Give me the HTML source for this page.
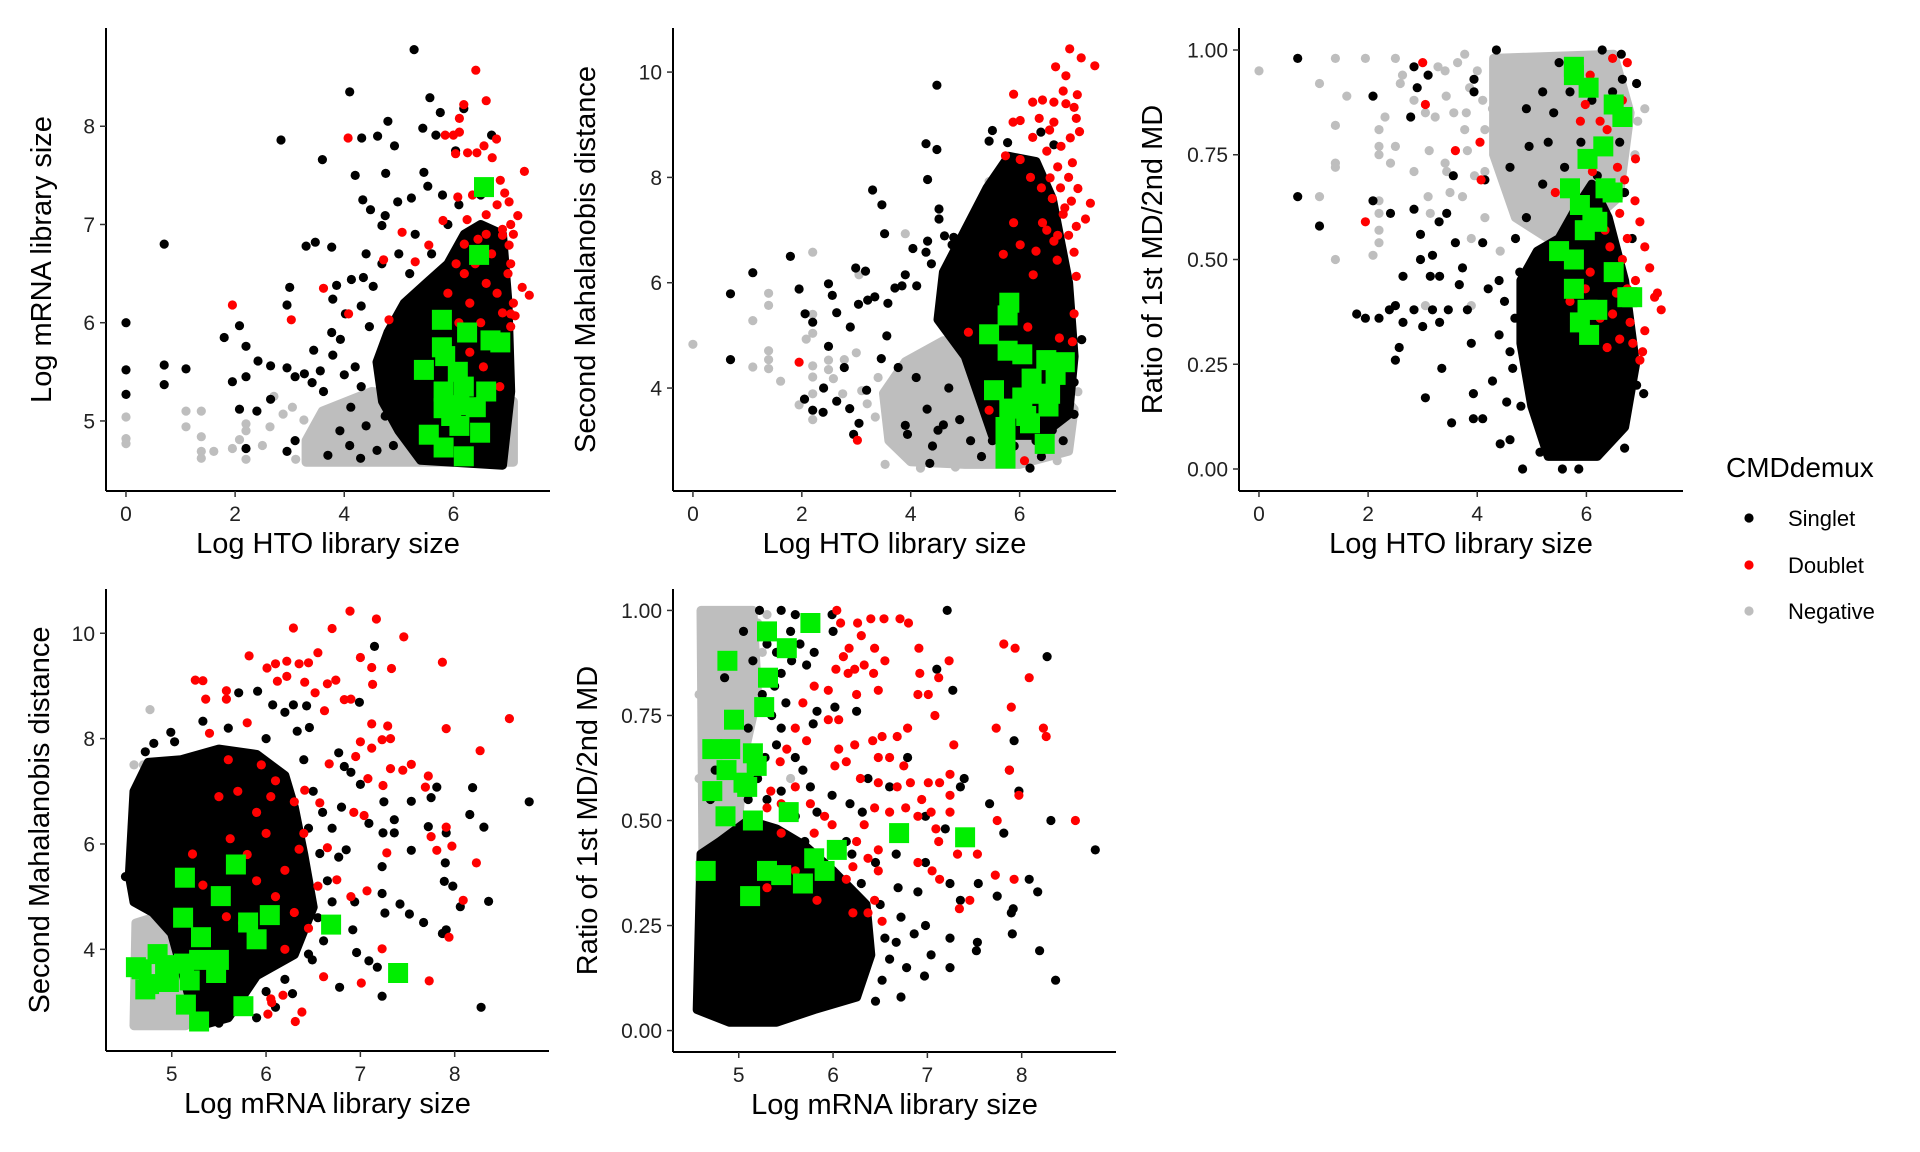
<!DOCTYPE html>
<html><head><meta charset="utf-8"><title>CMDdemux diagnostic scatter plots</title>
<style>
html,body{margin:0;padding:0;background:#fff;}
svg{display:block;font-family:"Liberation Sans",Arial,sans-serif;}
</style></head>
<body>
<svg id="fig" width="1920" height="1152" viewBox="0 0 1920 1152" xmlns="http://www.w3.org/2000/svg">
<rect width="1920" height="1152" fill="#fff"/>
<g id="plots"></g>
<g>
 <text x="1726" y="477" font-size="28">CMDdemux</text>
 <g><circle cx="1749" cy="518" r="4.6" fill="#000"/><text x="1788" y="526" font-size="22">Singlet</text></g>
 <g><circle cx="1749" cy="565" r="4.6" fill="#f00"/><text x="1788" y="573" font-size="22">Doublet</text></g>
 <g><circle cx="1749" cy="611" r="4.6" fill="#bebebe"/><text x="1788" y="619" font-size="22">Negative</text></g>
</g>
</svg>
<script>
// ---------- tick arrays ----------
var htoTicks=[0,2,4,6];
var mrnaPanel1Ticks=[5,6,7,8];
var md2Ticks=[4,6,8,10];
var ratioTicks=[0,0.25,0.5,0.75,1.0];
var ratioTickLabels=["0.00","0.25","0.50","0.75","1.00"];
var mrnaTicks=[5,6,7,8];

// ---------- Panel 1: Log HTO vs Log mRNA ----------
var p1NegativeCore=[[3.3,4.58],[7.1,4.58],[7.1,5.2],[5.5,5.25],[4.5,5.3],[3.6,5.1],[3.3,4.8]];
var p1SingletCore=[[5.0,4.9],[5.4,4.6],[6.9,4.55],[7.05,5.3],[7.0,6.2],[6.9,6.9],[6.5,7.0],[6.2,6.9],[5.9,6.6],[5.5,6.4],[5.1,6.2],[4.8,5.9],[4.6,5.6],[4.7,5.2]];
var p1Negative=[[0,5.04],[0,4.82],[0,4.77],[1.1,5.1],[1.1,4.94],[1.38,5.1],[1.38,4.84],[1.38,4.69],[1.38,4.62],[1.61,4.69],[1.95,4.72],[2.08,4.81],[2.2,4.97],[2.2,4.9],[2.2,4.61],[2.5,4.75],[2.64,4.94],[2.71,5.25],[2.88,5.07],[3.05,5.14],[3.26,5.01],[3.41,4.78],[3.11,4.61]];
var p1Singlet=[[0,6.0],[0,5.52],[0,5.27],[0.7,6.8],[0.7,5.57],[0.7,5.37],[1.1,5.53],[1.8,5.85],[1.95,5.4],[2.08,5.97],[2.2,5.76],[2.2,5.45],[2.08,5.12],[2.4,5.1],[2.2,4.72],[2.84,7.86],[3,6.36],[2.95,6.18],[3.3,6.78],[3.47,6.82],[3.6,7.66],[3.77,6.77],[3.79,6.24],[3.86,6.38],[4.1,8.35],[4.32,7.88],[4.61,7.9],[4.8,8.05],[4.92,7.8],[4.2,7.5],[4.76,7.52],[5.28,8.78],[5.57,8.29],[5.76,8.14],[5.44,7.98],[5.68,7.91],[6.19,8.18],[6.04,7.75],[6.7,7.91],[5.46,7.53],[5.53,7.39],[4.98,7.23],[4.34,7.25],[4.48,7.15],[5.23,7.27],[4.75,7.09],[4.69,6.99],[4.4,6.7],[4.69,6.6],[4.13,6.44],[4.35,6.46],[4.53,6.37],[4.31,6.17],[4.02,6.09],[4.46,5.96],[3.77,5.9],[3.93,5.83],[3.44,5.72],[3.79,5.67],[3.56,5.51],[3.27,5.48],[2.95,5.54],[2.65,5.56],[2.42,5.61],[3.1,5.45],[3.41,5.39],[3.62,5.3],[2.65,5.22],[4.0,5.47],[4.2,5.55],[4.31,5.35],[4.12,5.14],[3.92,4.9],[2.95,4.69],[3.1,4.8],[4.4,4.95],[4.6,4.7],[4.9,4.75],[4.3,4.62],[4.75,5.05],[3.7,4.65],[4.1,4.75],[5.2,6.5],[5.0,6.7],[5.3,6.9],[5.6,6.7],[5.9,7.0],[6.1,7.2],[5.8,7.3],[6.5,7.3]];
var p1Doublet=[[6.41,8.57],[6.6,8.26],[6.19,8.22],[6.11,8.08],[5.85,7.91],[6.0,7.91],[6.11,7.94],[6.79,7.87],[6.04,7.72],[6.26,7.73],[6.43,7.73],[6.56,7.8],[6.71,7.68],[7.3,7.54],[6.86,7.45],[6.94,7.32],[7.02,7.23],[7.18,7.09],[7.05,7.0],[6.9,6.89],[7.02,6.79],[7.26,6.36],[7.39,6.28],[7.05,6.09],[7.13,6.07],[7.05,5.96],[5.55,6.79],[5.06,6.92],[5.81,7.04],[6.08,7.28],[5.3,6.62],[4.82,6.03],[4.08,6.09],[4.07,7.88],[3.62,6.35],[4.72,6.64],[1.95,6.18],[3.03,6.03],[6.2,6.5],[6.4,6.6],[6.6,6.4],[6.8,6.3],[7.0,6.5],[6.3,6.2],[6.5,6.0],[6.9,6.1],[6.1,6.0],[6.7,6.7],[6.45,6.85],[6.9,6.95],[7.05,6.6],[6.2,6.8],[6.6,7.1],[6.8,7.2],[6.35,7.3],[6.7,5.8],[6.95,5.75],[6.3,5.7],[6.55,5.55],[6.15,5.4],[6.45,5.2],[6.85,5.35],[7.1,6.2],[5.9,6.3],[6.05,6.6],[6.6,6.9],[6.25,7.05],[7.1,6.9]];
var p1Green=[[6.56,7.38],[6.47,6.69],[5.79,6.03],[6.25,5.9],[6.68,5.82],[6.86,5.8],[5.79,5.75],[5.46,5.52],[5.85,5.66],[6.08,5.5],[5.82,5.3],[6.19,5.35],[6.6,5.3],[5.82,5.13],[6.11,5.16],[6.41,5.14],[6.11,4.95],[6.49,4.88],[5.55,4.86],[5.82,4.73],[6.19,4.64],[5.96,5.05]];

// ---------- Panel 2: Log HTO vs Second MD ----------
var p2NegativeCore=[[3.6,3.0],[4.0,2.6],[5.0,2.55],[6.0,2.55],[6.9,2.8],[7.0,3.6],[6.4,4.3],[5.5,4.7],[4.6,4.9],[3.9,4.5],[3.5,3.9]];
var p2SingletCore=[[5.0,4.6],[5.3,3.7],[5.5,3.1],[6.4,3.1],[6.9,3.5],[7.0,4.6],[6.9,6.0],[6.6,7.6],[6.3,8.3],[5.8,8.4],[5.4,7.8],[5.0,7.0],[4.6,6.2],[4.5,5.3]];
var p2Negative=[[0,4.83],[1.1,5.28],[1.1,4.4],[1.39,5.8],[1.39,5.57],[1.39,4.71],[1.39,4.54],[1.39,4.37],[1.61,4.13],[1.95,3.68],[2.2,6.58],[2.2,5.4],[2.2,5.04],[2.08,4.93],[2.2,4.42],[2.2,4.21],[2.2,3.89],[2.2,3.4],[2.49,4.53],[2.49,4.35],[2.78,4.54],[2.58,4.18],[2.75,3.89],[3.05,6.15],[3.0,4.67],[3.9,6.93],[3.53,2.55],[4.18,2.48],[4.82,2.5],[5.44,7.92],[6.69,2.62],[7.07,3.93],[3.2,3.7],[3.35,3.45],[3.1,3.95],[3.4,4.2]];
var p2Singlet=[[0.69,4.54],[0.69,5.79],[1.1,6.19],[1.79,6.5],[1.95,5.88],[2.06,5.41],[2.2,5.25],[2.49,5.98],[2.56,5.76],[2.49,4.79],[2.64,5.43],[2.89,5.16],[2.99,6.28],[3.17,6.22],[3.04,5.59],[3.21,5.67],[3.34,5.73],[3.3,7.76],[3.47,7.48],[3.52,6.93],[3.58,5.61],[3.71,5.9],[3.84,5.94],[3.9,6.15],[4.04,6.65],[4.11,5.94],[4.28,8.64],[4.48,8.53],[4.31,7.96],[4.48,9.75],[4.52,7.4],[4.52,7.21],[4.31,6.79],[4.28,6.58],[4.38,6.36],[4.62,6.89],[4.76,6.72],[4.79,6.86],[5.5,8.89],[5.44,8.69],[6.39,8.86],[6.63,8.62],[5.78,8.66],[2.05,3.79],[2.2,3.58],[2.39,3.54],[2.4,4.0],[2.64,3.75],[2.78,4.39],[2.88,3.61],[2.95,3.12],[3.05,3.33],[3.19,3.96],[3.46,4.56],[3.56,4.99],[3.77,4.39],[3.9,3.29],[3.94,3.12],[4.35,2.57],[6.19,2.48],[7.0,3.5],[7.14,4.92],[7.0,4.11],[4.3,3.6],[4.5,3.2],[4.7,4.0],[4.1,4.2],[4.9,3.4],[5.1,3.0],[4.4,2.9],[5.2,4.3],[4.6,3.3],[5.5,3.0],[5.9,2.9],[6.3,3.0],[6.6,3.2],[6.8,3.0],[5.3,2.7],[6.4,2.7]];
var p2Doublet=[[6.92,10.44],[7.13,10.27],[7.38,10.12],[6.66,10.1],[6.85,9.93],[5.89,9.58],[6.8,9.64],[7.06,9.57],[6.24,9.43],[6.42,9.47],[6.63,9.43],[7.0,9.33],[7.04,9.12],[5.88,9.05],[6.01,9.08],[6.36,9.12],[6.63,9.05],[7.1,8.87],[6.24,8.76],[6.93,8.75],[6.76,8.59],[6.97,8.28],[5.74,8.41],[6.01,8.34],[6.56,7.99],[7.07,7.79],[7.3,7.51],[7.21,7.21],[6.83,7.42],[7.04,7.07],[6.42,7.14],[6.63,6.79],[7.0,6.58],[7.04,6.12],[5.89,7.14],[5.7,6.54],[6.01,6.72],[6.25,6.15],[6.69,6.43],[6.15,5.16],[5.06,5.06],[7.0,5.41],[6.73,4.95],[6.97,4.88],[1.95,4.49],[3.02,3.01],[5.44,3.58],[6.09,2.62],[6.5,8.5],[6.7,8.2],[6.9,8.0],[6.4,7.8],[6.6,7.6],[6.8,7.3],[6.5,7.0],[6.9,6.9],[6.3,6.6],[6.7,6.9],[6.55,8.9],[6.85,9.4],[6.2,8.0],[6.75,7.8],[6.95,7.55]];
var p2Green=[[5.81,5.62],[5.78,5.38],[5.44,5.02],[5.78,4.71],[6.05,4.64],[6.49,4.53],[6.83,4.49],[6.22,4.18],[6.66,4.25],[5.53,3.96],[6.05,3.82],[6.39,3.89],[6.53,3.65],[5.81,3.61],[6.12,3.47],[5.74,3.26],[6.19,3.33],[5.74,3.01],[6.46,2.94],[5.74,2.66],[6.56,3.89]];

// ---------- Panel 3: Log HTO vs ratio ----------
var p3NegativeCore=[[4.3,0.98],[6.5,0.99],[6.8,0.85],[6.6,0.65],[6.0,0.58],[5.3,0.55],[4.7,0.6],[4.3,0.75]];
var p3SingletCore=[[5.3,0.03],[6.2,0.03],[6.7,0.1],[6.9,0.25],[6.7,0.45],[6.4,0.6],[6.1,0.68],[5.8,0.62],[5.5,0.55],[5.1,0.52],[4.8,0.45],[4.8,0.3],[5.0,0.15]];
var p3Negative=[[0,0.95],[1.4,0.98],[1.95,0.98],[2.5,0.98],[1.11,0.92],[1.61,0.89],[1.4,0.82],[1.4,0.73],[1.4,0.72],[1.11,0.65],[1.4,0.5],[2.09,0.51],[2.2,0.54],[2.2,0.57],[2.2,0.61],[2.2,0.64],[2.2,0.77],[2.2,0.75],[2.31,0.84],[2.5,0.77],[2.41,0.73],[2.2,0.81],[2.63,0.94],[2.59,0.92],[2.84,0.71],[3.14,0.61],[3.1,0.65],[3.12,0.76],[3.05,0.39],[2.84,0.88],[3.05,0.85],[3.23,0.84],[3.28,0.96],[3.41,0.95],[3.43,0.89],[3.44,0.71],[3.41,0.73],[3.5,0.66],[3.57,0.85],[3.64,0.97],[3.77,0.99],[3.77,0.81],[3.8,0.85],[3.82,0.76],[3.86,0.91],[3.89,0.55],[3.89,0.39],[3.73,0.65],[4.14,0.81],[4.14,0.71],[4.14,0.6],[4.28,0.86],[4.42,0.52],[7.07,0.86],[6.94,0.83],[6.89,0.75],[4.0,0.95],[4.1,0.88],[3.95,0.7]];
var p3Singlet=[[0.71,0.98],[0.71,0.65],[1.11,0.58],[2.09,0.89],[2.09,0.64],[2.41,0.61],[1.79,0.37],[1.95,0.36],[2.2,0.36],[2.39,0.38],[2.5,0.39],[2.5,0.26],[2.57,0.29],[2.64,0.46],[2.64,0.35],[2.84,0.38],[2.84,0.62],[2.78,0.84],[2.84,0.96],[2.9,0.91],[3.1,0.94],[2.96,0.56],[2.96,0.5],[3.0,0.34],[3.05,0.17],[3.18,0.51],[3.18,0.38],[3.14,0.46],[3.31,0.46],[3.31,0.35],[3.3,0.59],[3.35,0.24],[3.44,0.61],[3.53,0.11],[3.47,0.38],[3.56,0.7],[3.6,0.54],[3.67,0.44],[3.73,0.48],[3.82,0.38],[3.89,0.3],[3.93,0.18],[3.93,0.12],[4.1,0.12],[4.1,0.54],[4.2,0.43],[4.28,0.21],[4.42,0.06],[4.6,0.07],[4.83,0.0],[4.14,0.69],[3.94,0.93],[3.94,0.9],[4.35,1.0],[4.4,0.32],[4.65,0.24],[4.54,0.16],[4.69,0.36],[4.78,0.47],[4.95,0.77],[5.2,0.9],[6.29,1.0],[6.64,0.99],[6.92,0.92],[6.48,0.9],[6.66,0.93],[6.61,0.78],[6.7,0.66],[6.84,0.55],[7.05,0.18],[6.92,0.2],[6.7,0.05],[5.56,0.0],[5.86,0.0],[5.15,0.04],[5.4,0.85],[5.7,0.9],[5.9,0.78],[5.6,0.72],[5.2,0.68],[5.8,0.95],[6.1,0.88],[5.3,0.78],[4.6,0.72],[4.9,0.86],[5.5,0.97],[6.2,0.7],[4.5,0.4],[4.6,0.28],[4.8,0.15],[4.7,0.55],[4.4,0.45],[4.9,0.6]];
var p3Doublet=[[3.0,0.97],[3.05,0.87],[3.6,0.76],[4.05,0.78],[4.07,0.69],[1.95,0.59],[7.37,0.38],[7.3,0.42],[7.16,0.48],[7.07,0.53],[6.98,0.59],[6.89,0.64],[6.9,0.74],[7.03,0.28],[6.98,0.26],[7.07,0.33],[6.8,0.35],[6.61,0.31],[6.48,0.37],[6.75,0.43],[6.66,0.5],[6.43,0.53],[6.34,0.57],[6.61,0.61],[6.7,0.69],[6.57,0.72],[6.38,0.81],[6.25,0.83],[6.66,0.88],[6.75,0.97],[6.48,0.98],[6.07,0.94],[5.98,0.87],[5.89,0.83],[6.11,0.71],[6.07,0.47],[5.98,0.43],[5.7,0.4],[5.79,0.5],[5.43,0.66],[6.25,0.36],[6.38,0.29],[6.75,0.55],[7.25,0.41],[6.9,0.45],[6.55,0.42],[6.85,0.3]];
var p3Green=[[5.77,0.96],[5.77,0.94],[6.04,0.91],[6.5,0.87],[6.66,0.84],[6.31,0.77],[6.02,0.74],[5.7,0.67],[6.35,0.67],[6.48,0.66],[5.88,0.63],[6.11,0.6],[6.2,0.59],[5.97,0.57],[5.5,0.52],[5.77,0.5],[6.5,0.47],[5.77,0.43],[6.75,0.41],[6.02,0.38],[6.2,0.38],[5.88,0.35],[6.05,0.32],[6.84,0.41]];

// ---------- Panel 4: Log mRNA vs Second MD ----------
var p4NegativeCore=[[4.6,2.55],[5.15,2.55],[5.2,3.0],[5.0,4.3],[4.8,4.6],[4.62,4.5]];
var p4SingletCore=[[4.55,5.4],[4.6,7.0],[4.75,7.55],[5.1,7.6],[5.5,7.8],[5.9,7.7],[6.2,7.3],[6.3,6.7],[6.4,5.8],[6.5,4.8],[6.3,3.9],[5.9,3.5],[5.6,2.7],[5.3,2.55],[5.2,3.0],[5.0,4.3],[4.8,4.7],[4.6,4.9]];
var p4Negative=[[4.77,8.55],[4.6,7.5],[4.7,7.5],[4.62,6.2],[4.62,6.0],[4.75,5.5],[4.6,5.2],[4.65,4.9],[5.2,2.6],[5.25,2.75]];
var p4Singlet=[[8.79,6.8],[8.16,6.56],[8.31,6.32],[8.19,7.07],[7.81,7.08],[7.75,6.88],[7.54,6.81],[7.36,6.46],[7.72,6.33],[7.91,6.21],[7.54,5.88],[7.9,5.64],[7.89,5.29],[7.98,5.2],[8.06,4.81],[8.36,4.91],[7.42,4.86],[7.52,4.67],[7.67,4.51],[7.87,4.3],[7.91,4.37],[7.26,4.69],[7.23,5.06],[7.23,5.57],[7.24,6.21],[7.25,6.8],[7.36,6.21],[7.09,6.39],[7.0,7.13],[6.9,7.36],[6.83,7.47],[6.96,3.94],[7.09,3.78],[7.18,3.66],[7.23,3.11],[8.28,2.9],[7.15,9.75],[6.99,8.69],[6.77,7.73],[6.78,3.28],[6.92,4.37],[6.94,4.9],[6.85,5.89],[6.77,5.75],[6.57,5.82],[6.61,4.16],[6.45,3.91],[6.49,3.8],[6.28,3.16],[6.2,3.43],[5.91,8.9],[5.71,8.87],[6.07,8.64],[6.29,8.64],[6.43,8.62],[6.46,8.21],[6.2,8.5],[6.33,8.14],[4.99,8.12],[5.03,7.94],[4.81,7.91],[4.72,7.75],[5.33,8.33],[4.61,5.4],[4.51,5.38],[6.6,6.6],[6.7,6.3],[6.5,7.0],[6.65,5.3],[6.45,6.3],[6.4,7.6],[6.0,8.0],[5.6,8.2],[6.8,6.7],[6.55,4.6],[6.7,4.9],[6.0,3.2],[5.8,3.0],[5.5,2.6],[6.1,2.9],[5.9,2.7]];
var p4Doublet=[[6.89,10.42],[7.17,10.27],[6.29,10.1],[6.7,10.09],[7.46,9.93],[5.82,9.57],[7.0,9.54],[7.87,9.45],[7.12,9.35],[7.33,9.33],[6.1,9.42],[6.22,9.47],[6.35,9.42],[6.45,9.44],[6.55,9.63],[6.01,9.34],[5.25,9.11],[5.33,9.1],[6.12,9.09],[6.22,9.18],[6.74,9.11],[6.65,9.04],[7.13,9.03],[6.41,9.07],[6.52,8.87],[5.58,8.91],[5.36,8.75],[5.58,8.75],[6.83,8.74],[6.9,8.75],[6.62,8.53],[8.58,8.38],[7.91,8.19],[7.12,8.28],[7.29,8.24],[8.27,7.77],[7.23,7.98],[7.32,8.0],[7.0,7.94],[6.95,7.66],[7.12,7.82],[7.54,7.51],[7.45,7.4],[7.32,7.43],[7.72,7.29],[7.69,7.08],[7.24,7.11],[7.08,7.24],[7.91,6.32],[7.75,6.14],[7.81,5.88],[7.97,5.96],[8.23,5.64],[8.09,4.93],[7.94,4.23],[7.23,4.01],[7.73,3.4],[7.01,3.36],[6.93,6.6],[7.04,6.54],[7.28,5.83],[7.07,5.11],[6.9,5.0],[6.65,5.93],[6.75,5.32],[6.57,6.78],[6.41,7.02],[6.67,7.52],[6.61,3.48],[6.38,2.81],[6.31,2.63],[6.18,3.13],[6.06,2.99],[6.02,2.77],[6.05,3.06],[5.62,6.1],[5.33,5.22],[5.58,4.62],[5.22,5.81],[5.7,7.0],[5.9,6.6],[6.1,7.2],[5.5,6.9],[6.0,6.2],[6.2,5.5],[5.8,5.8],[6.1,5.0],[6.3,4.7],[5.6,7.6],[6.3,6.8],[5.95,7.5],[6.4,6.2],[6.45,4.4],[6.2,4.0],[5.75,4.5],[6.55,5.2],[5.4,8.1],[5.8,8.3],[6.05,6.9],[5.9,5.3],[6.35,5.9]];
var p4Green=[[5.14,5.36],[5.68,5.61],[5.52,5.01],[5.12,4.6],[5.81,4.51],[6.04,4.65],[6.69,4.47],[5.31,4.23],[5.9,4.19],[4.85,3.91],[4.68,3.62],[4.93,3.7],[5.13,3.73],[5.29,3.8],[5.5,3.8],[7.4,3.55],[4.76,3.34],[4.97,3.38],[5.19,3.41],[5.47,3.55],[4.72,3.24],[5.15,2.95],[5.76,2.92],[5.29,2.63],[4.62,3.66]];

// ---------- Panel 5: Log mRNA vs ratio ----------
var p5NegativeCore=[[4.6,1.0],[5.15,1.0],[5.2,0.8],[5.05,0.65],[5.0,0.5],[4.8,0.42],[4.62,0.42]];
var p5SingletCore=[[4.56,0.05],[4.6,0.42],[4.8,0.45],[5.1,0.5],[5.4,0.48],[5.7,0.44],[6.0,0.38],[6.35,0.3],[6.4,0.18],[6.25,0.08],[5.8,0.05],[5.4,0.02],[4.9,0.02]];
var p5Negative=[[5.3,0.99],[5.2,0.97],[5.25,0.9],[5.22,0.83],[4.58,0.6],[4.58,0.8],[5.1,0.45],[5.55,0.6]];
var p5Singlet=[[7.21,1.0],[8.27,0.89],[7.1,0.86],[7.27,0.81],[7.92,0.69],[6.79,0.65],[7.39,0.6],[7.35,0.58],[7.87,0.62],[7.97,0.57],[7.66,0.54],[8.31,0.5],[8.78,0.43],[7.81,0.47],[7.19,0.48],[6.98,0.51],[8.08,0.36],[8.17,0.33],[7.74,0.32],[7.54,0.35],[7.35,0.31],[7.91,0.29],[7.89,0.28],[7.24,0.22],[7.53,0.21],[7.52,0.19],[7.9,0.23],[8.19,0.19],[8.36,0.12],[7.24,0.15],[7.04,0.18],[6.97,0.13],[6.72,0.08],[6.78,0.15],[6.67,0.21],[6.52,0.12],[6.45,0.07],[6.6,0.17],[6.86,0.23],[6.98,0.25],[6.72,0.27],[6.69,0.34],[6.9,0.33],[7.24,0.35],[6.98,0.4],[6.67,0.42],[6.6,0.58],[6.37,0.6],[6.31,0.52],[6.14,0.45],[6.18,0.54],[5.99,0.56],[6.02,0.77],[6.25,0.76],[5.83,0.76],[5.79,0.73],[5.99,0.99],[6.0,0.95],[5.6,0.99],[5.45,1.0],[5.22,1.0],[5.8,0.9],[5.72,0.87],[5.56,0.88],[5.38,0.82],[5.45,0.72],[5.28,0.65],[5.6,0.65],[5.68,0.62],[5.76,0.58],[5.6,0.51],[5.45,0.57],[5.83,0.52],[5.99,0.38],[4.92,0.33],[5.05,0.95],[5.15,0.88],[5.25,0.8],[5.1,0.72],[5.3,0.92],[5.4,0.9],[5.35,0.75],[5.2,0.6],[5.45,0.85],[5.5,0.78],[5.1,0.55],[5.3,0.55],[4.85,0.84],[4.75,0.62],[4.7,0.55],[5.4,0.68],[5.55,0.95],[5.65,0.92],[5.5,0.52],[5.7,0.45],[6.5,0.3],[6.55,0.22],[6.3,0.35],[6.2,0.42],[6.45,0.4]];
var p5Doublet=[[6.04,1.0],[6.08,0.97],[6.26,0.97],[6.4,0.98],[6.54,0.98],[6.71,0.98],[6.8,0.97],[6.3,0.94],[6.91,0.91],[6.44,0.91],[6.55,0.88],[6.11,0.89],[6.17,0.91],[7.23,0.88],[7.81,0.92],[7.93,0.91],[8.08,0.84],[6.33,0.87],[6.23,0.86],[6.16,0.85],[6.43,0.85],[6.03,0.86],[5.95,0.81],[6.25,0.8],[6.48,0.81],[6.92,0.85],[7.12,0.84],[6.9,0.8],[7.01,0.8],[7.08,0.75],[7.89,0.77],[7.73,0.72],[8.23,0.72],[8.26,0.7],[7.28,0.68],[7.87,0.62],[7.97,0.56],[8.57,0.5],[7.74,0.5],[7.53,0.42],[7.72,0.37],[7.92,0.36],[7.45,0.31],[7.34,0.29],[6.79,0.72],[6.68,0.7],[6.52,0.7],[6.42,0.69],[6.6,0.65],[6.48,0.65],[6.75,0.63],[6.23,0.68],[6.06,0.67],[6.14,0.64],[6.02,0.63],[6.29,0.6],[6.48,0.59],[6.68,0.58],[6.82,0.59],[7.01,0.59],[7.13,0.59],[7.24,0.61],[6.94,0.55],[7.24,0.56],[7.24,0.52],[7.04,0.52],[6.9,0.51],[6.6,0.52],[6.77,0.53],[6.44,0.53],[6.33,0.49],[6.25,0.45],[6.48,0.43],[7.09,0.48],[7.12,0.45],[7.32,0.42],[7.05,0.38],[7.13,0.36],[6.9,0.4],[6.48,0.38],[6.37,0.41],[6.21,0.39],[6.14,0.36],[6.44,0.31],[6.52,0.26],[6.37,0.28],[6.21,0.28],[5.83,0.31],[5.6,0.38],[5.3,0.34],[5.45,0.47],[5.34,0.57],[5.45,0.54],[5.6,0.58],[5.76,0.54],[5.91,0.51],[5.8,0.47],[5.99,0.49],[5.6,0.72],[5.72,0.69],[5.68,0.78],[5.8,0.82],[5.95,0.74],[6.06,0.74],[5.51,0.67],[5.44,0.64],[5.3,0.53]];
var p5Green=[[5.76,0.97],[5.3,0.95],[5.51,0.91],[4.88,0.88],[5.31,0.84],[5.27,0.77],[4.95,0.74],[4.72,0.67],[4.91,0.67],[5.15,0.66],[5.19,0.63],[4.87,0.62],[5.05,0.59],[5.09,0.58],[4.72,0.57],[5.53,0.52],[4.86,0.51],[5.15,0.5],[6.7,0.47],[7.4,0.46],[6.04,0.43],[5.8,0.41],[5.91,0.38],[4.65,0.38],[5.3,0.38],[5.45,0.37],[5.68,0.35],[5.12,0.32]];

// ---------- rendering ----------
var NS="http://www.w3.org/2000/svg";
var root=document.getElementById('plots');
function mk(tag,parent){var e=document.createElementNS(NS,tag);parent.appendChild(e);return e;}
function linScale(d0,d1,r0,r1){return function(v){return r0+(v-d0)*(r1-r0)/(d1-d0);};}

var panels=[
 {key:'p1',ax:106,ay:491,top:28,right:550,xd:[-0.366,7.77],yd:[4.287,9.0],xt:htoTicks,xl:null,yt:mrnaPanel1Ticks,yl:null,xtitle:'Log HTO library size',ytitle:'Log mRNA library size',ytOff:-64,
  neg:p1Negative,negCore:p1NegativeCore,sing:p1Singlet,singCore:p1SingletCore,dbl:p1Doublet,grn:p1Green},
 {key:'p2',ax:673,ay:491,top:28,right:1116,xd:[-0.366,7.77],yd:[2.045,10.837],xt:htoTicks,xl:null,yt:md2Ticks,yl:null,xtitle:'Log HTO library size',ytitle:'Second Mahalanobis distance',ytOff:-87,
  neg:p2Negative,negCore:p2NegativeCore,sing:p2Singlet,singCore:p2SingletCore,dbl:p2Doublet,grn:p2Green},
 {key:'p3',ax:1239,ay:491,top:28,right:1683,xd:[-0.366,7.77],yd:[-0.0525,1.0525],xt:htoTicks,xl:null,yt:ratioTicks,yl:ratioTickLabels,xtitle:'Log HTO library size',ytitle:'Ratio of 1st MD/2nd MD',ytOff:-86,
  neg:p3Negative,negCore:p3NegativeCore,sing:p3Singlet,singCore:p3SingletCore,dbl:p3Doublet,grn:p3Green},
 {key:'p4',ax:106,ay:1051,top:589,right:549,xd:[4.303,9.0],yd:[2.07,10.84],xt:mrnaTicks,xl:null,yt:md2Ticks,yl:null,xtitle:'Log mRNA library size',ytitle:'Second Mahalanobis distance',ytOff:-66,
  neg:p4Negative,negCore:p4NegativeCore,sing:p4Singlet,singCore:p4SingletCore,dbl:p4Doublet,grn:p4Green},
 {key:'p5',ax:673,ay:1052,top:589,right:1116,xd:[4.303,9.0],yd:[-0.051,1.051],xt:mrnaTicks,xl:null,yt:ratioTicks,yl:ratioTickLabels,xtitle:'Log mRNA library size',ytitle:'Ratio of 1st MD/2nd MD',ytOff:-85,
  neg:p5Negative,negCore:p5NegativeCore,sing:p5Singlet,singCore:p5SingletCore,dbl:p5Doublet,grn:p5Green}
];

function drawCore(g,pts,sx,sy,color,name){
  var p=mk('polygon',g);
  p.setAttribute('points',pts.map(function(d){return sx(d[0]).toFixed(1)+','+sy(d[1]).toFixed(1);}).join(' '));
  p.setAttribute('fill',color);p.setAttribute('stroke',color);p.setAttribute('stroke-width','9');p.setAttribute('stroke-linejoin','round');
  
  
}
function drawDots(g,pts,sx,sy,color,name){
  pts.forEach(function(d){
    var c=mk('circle',g);
    c.setAttribute('cx',sx(d[0]).toFixed(1));c.setAttribute('cy',sy(d[1]).toFixed(1));c.setAttribute('r','4.6');c.setAttribute('fill',color);
    
    
  });
}
function drawSquares(g,pts,sx,sy,name){
  pts.forEach(function(d){
    var r=mk('rect',g);
    r.setAttribute('x',(sx(d[0])-10).toFixed(1));r.setAttribute('y',(sy(d[1])-10).toFixed(1));r.setAttribute('width','20');r.setAttribute('height','20');r.setAttribute('fill','#00ee00');
    
    
  });
}

panels.forEach(function(P,i){
  var g=mk('g',root);
  
  
  var sx=linScale(P.xd[0],P.xd[1],P.ax,P.right);
  var sy=linScale(P.yd[0],P.yd[1],P.ay,P.top);
  var clip=mk('clipPath',g);clip.setAttribute('id','clip'+i);
  var cr=mk('rect',clip);cr.setAttribute('x',P.ax);cr.setAttribute('y',P.top-10);cr.setAttribute('width',P.right-P.ax+10);cr.setAttribute('height',P.ay-P.top+10);
  var pg=mk('g',g);pg.setAttribute('clip-path','url(#clip'+i+')');
  
  
  drawCore(pg,P.negCore,sx,sy,'#bebebe','negative-density');
  drawDots(pg,P.neg,sx,sy,'#bebebe','negative-point');
  drawCore(pg,P.singCore,sx,sy,'#000000','singlet-density');
  drawDots(pg,P.sing,sx,sy,'#000000','singlet-point');
  drawDots(pg,P.dbl,sx,sy,'#ff0000','doublet-point');
  drawSquares(pg,P.grn,sx,sy,'highlight-square');
  var xa=mk('line',g);xa.setAttribute('x1',P.ax);xa.setAttribute('x2',P.right);xa.setAttribute('y1',P.ay);xa.setAttribute('y2',P.ay);xa.setAttribute('stroke','#000');xa.setAttribute('stroke-width','2');
  
  
  var ya=mk('line',g);ya.setAttribute('x1',P.ax);ya.setAttribute('x2',P.ax);ya.setAttribute('y1',P.top);ya.setAttribute('y2',P.ay);ya.setAttribute('stroke','#000');ya.setAttribute('stroke-width','2');
  
  
  P.xt.forEach(function(v,k){
    var x=sx(v);
    var t=mk('line',g);t.setAttribute('x1',x);t.setAttribute('x2',x);t.setAttribute('y1',P.ay);t.setAttribute('y2',P.ay+6);t.setAttribute('stroke','#333');t.setAttribute('stroke-width','1.5');
    var l=mk('text',g);l.setAttribute('x',x);l.setAttribute('y',P.ay+30);l.setAttribute('text-anchor','middle');l.setAttribute('font-size','21');l.setAttribute('fill','#222');
    l.textContent=P.xl?P.xl[k]:String(v);
    
    
  });
  P.yt.forEach(function(v,k){
    var y=sy(v);
    var t=mk('line',g);t.setAttribute('x1',P.ax-6);t.setAttribute('x2',P.ax);t.setAttribute('y1',y);t.setAttribute('y2',y);t.setAttribute('stroke','#333');t.setAttribute('stroke-width','1.5');
    var l=mk('text',g);l.setAttribute('x',P.ax-11);l.setAttribute('y',y+7.5);l.setAttribute('text-anchor','end');l.setAttribute('font-size','21');l.setAttribute('fill','#222');
    l.textContent=P.yl?P.yl[k]:String(v);
    
    
  });
  var xt=mk('text',g);xt.setAttribute('x',(P.ax+P.right)/2);xt.setAttribute('y',P.ay+62);xt.setAttribute('text-anchor','middle');xt.setAttribute('font-size','29');
  xt.textContent=P.xtitle;
  
  
  var cy=(P.top+P.ay)/2, cx=P.ax+P.ytOff;
  var yt=mk('text',g);yt.setAttribute('x',cx);yt.setAttribute('y',cy);yt.setAttribute('text-anchor','middle');yt.setAttribute('dominant-baseline','central');yt.setAttribute('font-size','29');
  yt.setAttribute('transform','rotate(-90 '+cx+' '+cy+')');
  yt.textContent=P.ytitle;
  
  
});
</script>
</body></html>
